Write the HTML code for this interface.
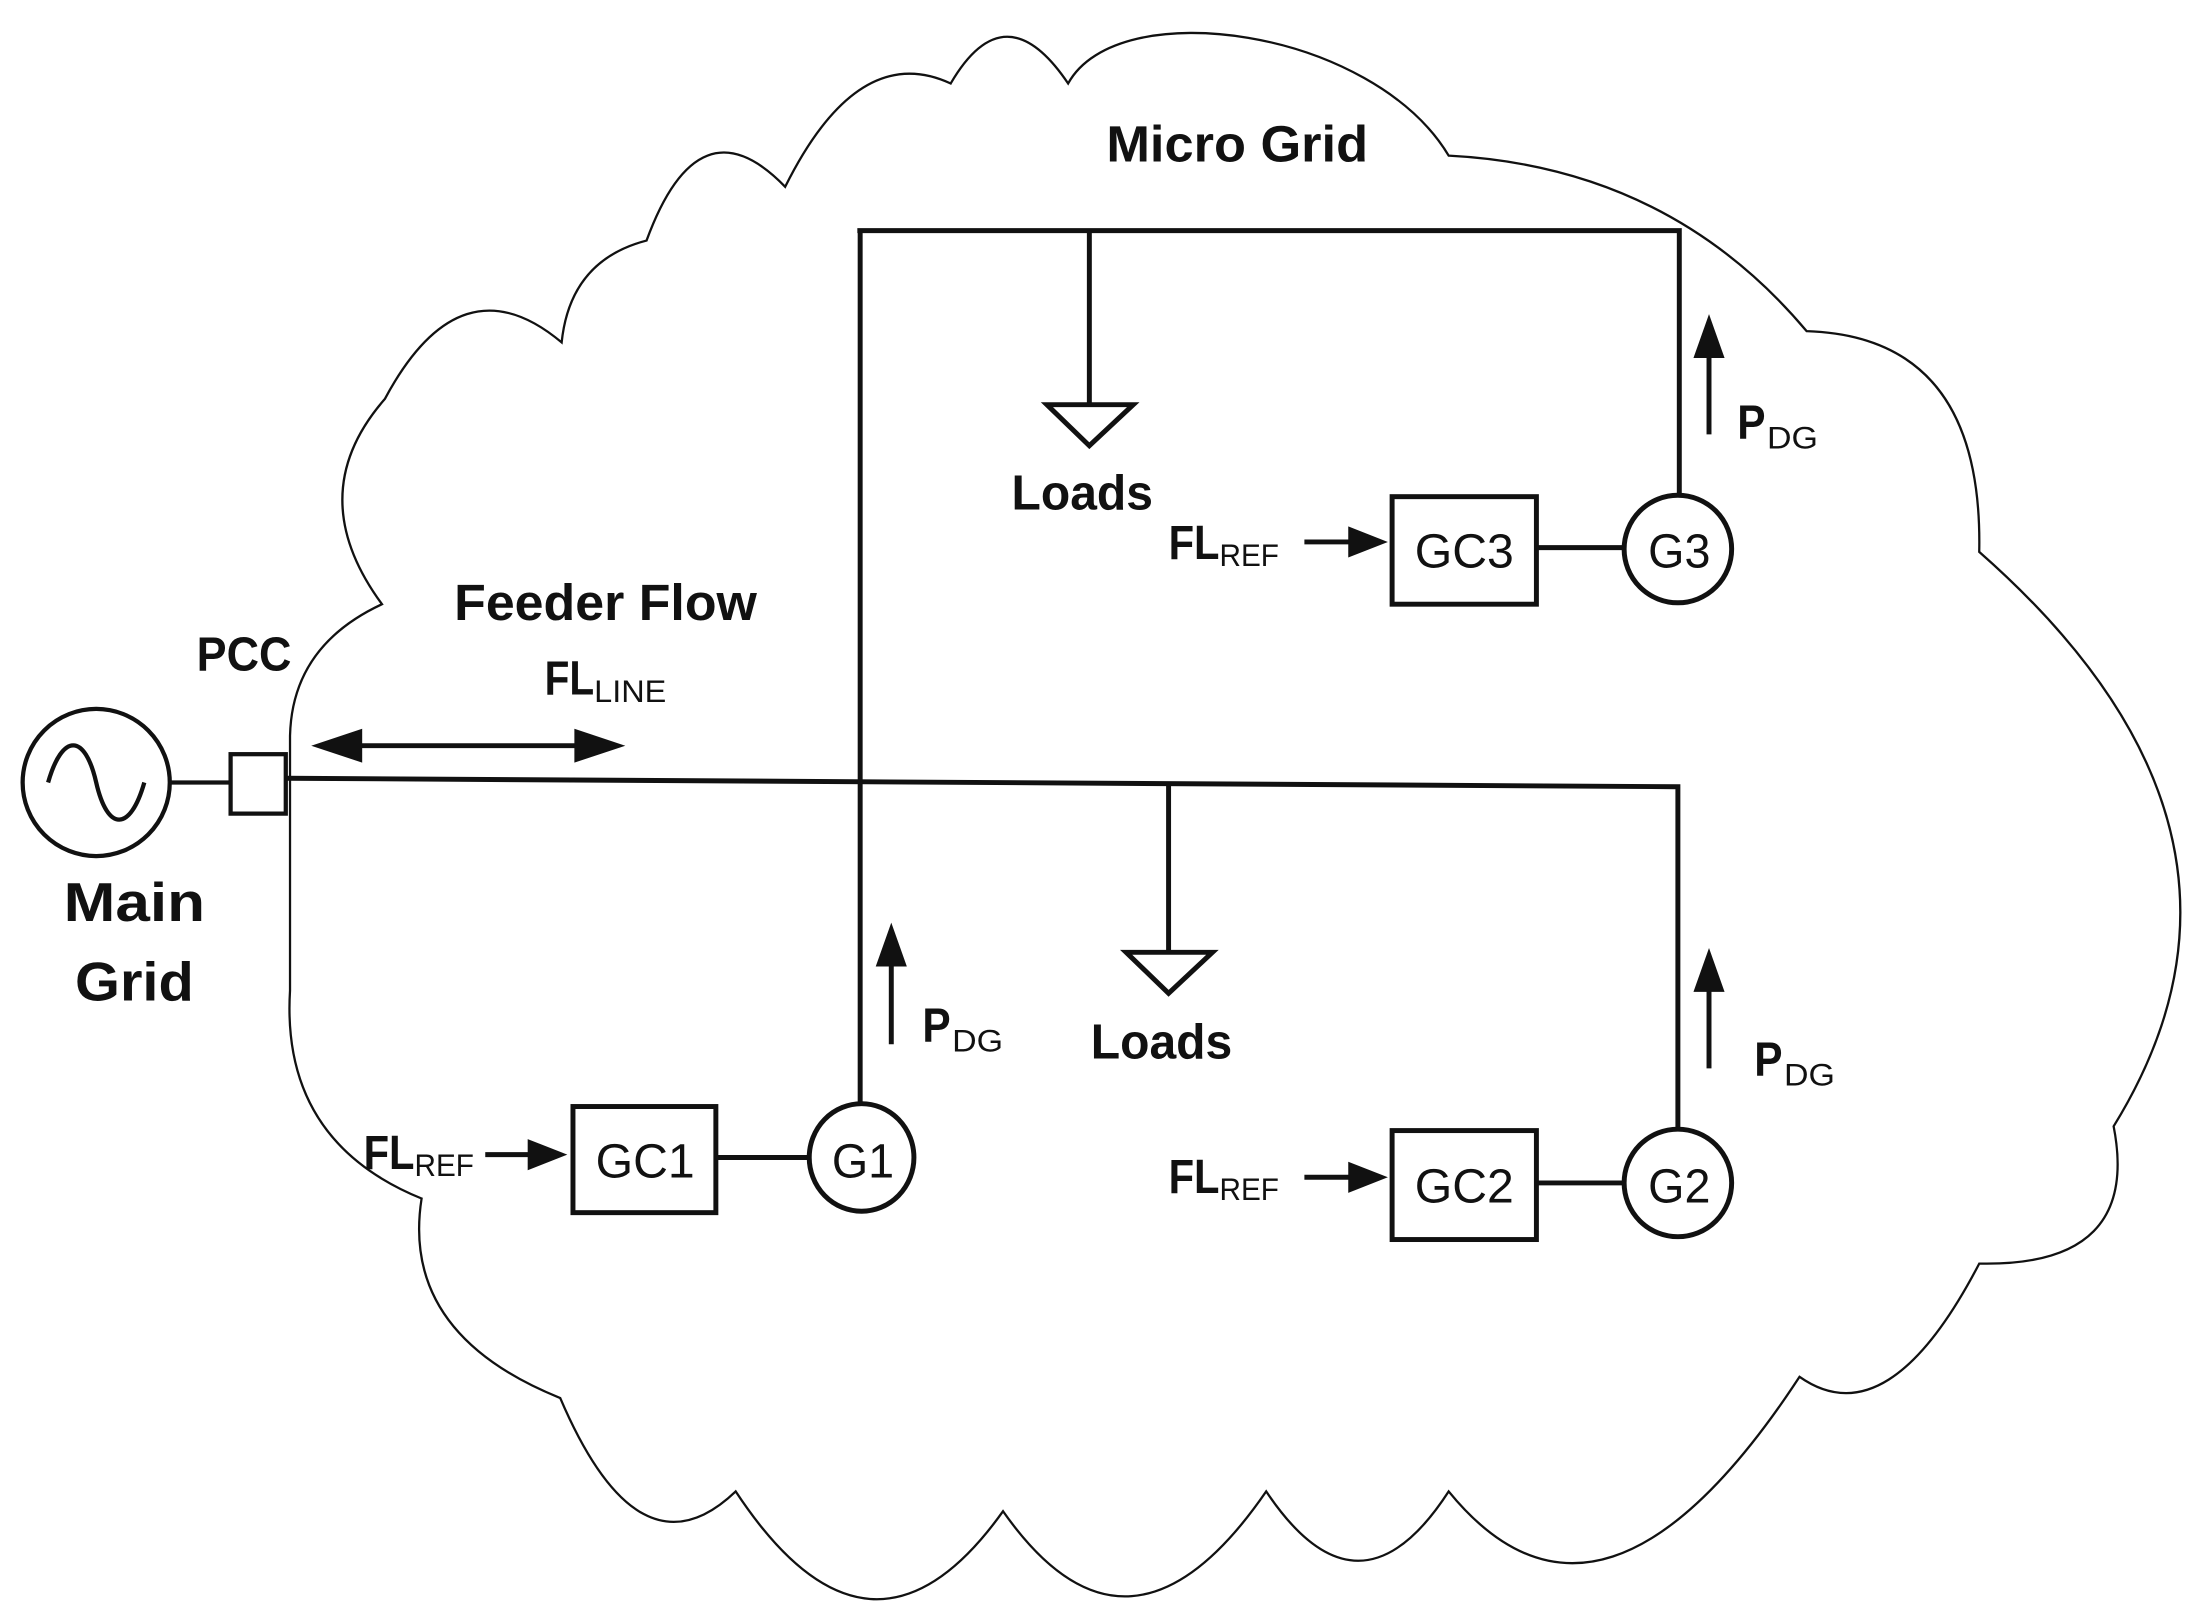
<!DOCTYPE html>
<html><head><meta charset="utf-8"><style>
html,body{margin:0;padding:0;background:#fff;}
svg{display:block;}
text{font-family:"Liberation Sans",sans-serif;fill:#111;}
.b{font-weight:bold;}
</style></head><body>
<svg width="2207" height="1623" viewBox="0 0 1560 1147" preserveAspectRatio="none" xmlns="http://www.w3.org/2000/svg">
<!-- cloud -->
<path d="M205 574 L205 520 Q206.5 456.5 270 427 Q213 349.5 272 282 Q325.5 182 397 242 Q403 184 457 170 Q494 69 555 132 Q606.5 28.5 672 59 Q710.5 -7 755 59 C790 -5 970 20 1024 110 Q1179.5 118 1277 234 Q1402 238 1399 390 Q1623 587 1494 796 Q1513.5 895.5 1399 893 Q1334.5 1017 1272 973 Q1132 1186.5 1024 1054 Q960.5 1152 895 1054 Q798 1195 709 1068 Q615.5 1199 520 1054 Q452 1119 396 988 Q283 942.5 298 847 Q198.5 806.5 205 700 Z" fill="none" stroke="#111" stroke-width="1.6"/>
<g stroke="#111" stroke-width="3.5" fill="none">
<!-- main grid -->
<circle cx="68" cy="553" r="52" stroke-width="3"/>
<path d="M34 553 C44 518 60 518 68 553 S92 588 102 553" stroke-width="3"/>
<line x1="120" y1="553" x2="162" y2="553" stroke-width="3"/>
<rect x="163" y="533" width="39" height="42" stroke-width="3"/>
<!-- buses -->
<polyline points="202,550 1186,556 1186,798"/>
<line x1="608" y1="163" x2="608" y2="781"/>
<polyline points="606,163 1187,163 1187,350"/>
<!-- loads -->
<line x1="770" y1="163" x2="770" y2="286"/>
<polygon points="740,286 801,286 770,315"/>
<line x1="826" y1="553" x2="826" y2="673"/>
<polygon points="796,673 857,673 826,702"/>
<!-- G1 -->
<rect x="405" y="782" width="101" height="75"/>
<line x1="506" y1="818" x2="572" y2="818"/>
<ellipse cx="609" cy="818" rx="37" ry="38"/>
<!-- G2 -->
<rect x="984" y="799" width="102" height="77"/>
<line x1="1086" y1="836" x2="1149" y2="836"/>
<ellipse cx="1186" cy="836" rx="38" ry="38"/>
<!-- G3 -->
<rect x="984" y="351" width="102" height="76"/>
<line x1="1086" y1="387" x2="1149" y2="387"/>
<ellipse cx="1186" cy="388" rx="38" ry="38"/>
<!-- arrow shafts -->
<line x1="240" y1="527" x2="420" y2="527"/>
<line x1="343" y1="816" x2="382" y2="816"/>
<line x1="922" y1="832" x2="962" y2="832"/>
<line x1="922" y1="383" x2="962" y2="383"/>
<line x1="630" y1="738" x2="630" y2="675"/>
<line x1="1208" y1="755" x2="1208" y2="693"/>
<line x1="1208" y1="307" x2="1208" y2="245"/>
</g>
<g fill="#111">
<polygon points="220,527 256,515 256,539"/>
<polygon points="442,527 406,515 406,539"/>
<polygon points="401,816 373,805 373,827"/>
<polygon points="981,832 953,821 953,843"/>
<polygon points="981,383 953,372 953,394"/>
<polygon points="630,652 619,683 641,683"/>
<polygon points="1208,670 1197,701 1219,701"/>
<polygon points="1208,222 1197,253 1219,253"/>
</g>
<!-- labels -->
<text class="b" x="782" y="114" font-size="36" textLength="185" lengthAdjust="spacingAndGlyphs">Micro Grid</text>
<text class="b" x="715" y="360" font-size="35" textLength="100" lengthAdjust="spacingAndGlyphs">Loads</text>
<text class="b" x="771" y="748" font-size="35" textLength="100" lengthAdjust="spacingAndGlyphs">Loads</text>
<text class="b" x="321" y="438" font-size="36" textLength="214" lengthAdjust="spacingAndGlyphs">Feeder Flow</text>
<text class="b" x="385" y="491" font-size="34" textLength="35" lengthAdjust="spacingAndGlyphs">FL</text>
<text x="420" y="496" font-size="22" textLength="51" lengthAdjust="spacingAndGlyphs">LINE</text>
<text class="b" x="139" y="474" font-size="34" textLength="67" lengthAdjust="spacingAndGlyphs">PCC</text>
<text class="b" x="45" y="651" font-size="39" textLength="100" lengthAdjust="spacingAndGlyphs">Main</text>
<text class="b" x="53" y="707" font-size="39" textLength="84" lengthAdjust="spacingAndGlyphs">Grid</text>
<!-- FLref -->
<text class="b" x="257" y="826" font-size="34" textLength="36" lengthAdjust="spacingAndGlyphs">FL</text>
<text x="293" y="831" font-size="22" textLength="42" lengthAdjust="spacingAndGlyphs">REF</text>
<text class="b" x="826" y="843" font-size="34" textLength="36" lengthAdjust="spacingAndGlyphs">FL</text>
<text x="862" y="848" font-size="22" textLength="42" lengthAdjust="spacingAndGlyphs">REF</text>
<text class="b" x="826" y="395" font-size="34" textLength="36" lengthAdjust="spacingAndGlyphs">FL</text>
<text x="862" y="400" font-size="22" textLength="42" lengthAdjust="spacingAndGlyphs">REF</text>
<!-- PDG -->
<text class="b" x="652" y="736" font-size="34" textLength="20" lengthAdjust="spacingAndGlyphs">P</text>
<text x="673" y="743" font-size="22" textLength="36" lengthAdjust="spacingAndGlyphs">DG</text>
<text class="b" x="1240" y="760" font-size="34" textLength="20" lengthAdjust="spacingAndGlyphs">P</text>
<text x="1261" y="767" font-size="22" textLength="36" lengthAdjust="spacingAndGlyphs">DG</text>
<text class="b" x="1228" y="310" font-size="34" textLength="20" lengthAdjust="spacingAndGlyphs">P</text>
<text x="1249" y="317" font-size="22" textLength="36" lengthAdjust="spacingAndGlyphs">DG</text>
<!-- boxes -->
<text x="421" y="832" font-size="34" textLength="70" lengthAdjust="spacingAndGlyphs">GC1</text>
<text x="588" y="832" font-size="34" textLength="44" lengthAdjust="spacingAndGlyphs">G1</text>
<text x="1000" y="850" font-size="34" textLength="70" lengthAdjust="spacingAndGlyphs">GC2</text>
<text x="1165" y="850" font-size="34" textLength="44" lengthAdjust="spacingAndGlyphs">G2</text>
<text x="1000" y="401" font-size="34" textLength="70" lengthAdjust="spacingAndGlyphs">GC3</text>
<text x="1165" y="401" font-size="34" textLength="44" lengthAdjust="spacingAndGlyphs">G3</text>
</svg>
</body></html>
